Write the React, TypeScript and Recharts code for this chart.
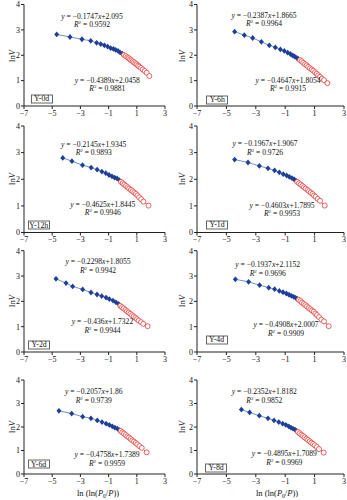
import React from 'react';
import { ScatterChart, Scatter, XAxis, YAxis } from 'recharts';

// ---------- data ----------
const xTicks = [-7, -5, -3, -1, 1, 3];
const yTicks = [0, 1, 2, 3, 4];

const panelLabels = ['Y-0d', 'Y-6h', 'Y-12h', 'Y-1d', 'Y-2d', 'Y-4d', 'Y-6d', 'Y-8d'];

const blue0d: [number, number][] = [[-4.68, 2.82], [-3.74, 2.72], [-2.89, 2.63], [-2.27, 2.57], [-1.85, 2.49], [-1.56, 2.44], [-1.30, 2.39], [-1.07, 2.34], [-0.85, 2.28], [-0.66, 2.25], [-0.50, 2.21], [-0.33, 2.17], [-0.19, 2.11], [-0.03, 2.06]];
const red0d: [number, number][] = [[0.09, 2.01], [0.21, 1.97], [0.33, 1.92], [0.42, 1.88], [0.52, 1.84], [0.61, 1.80], [0.71, 1.76], [0.80, 1.72], [0.90, 1.68], [0.99, 1.64], [1.09, 1.59], [1.18, 1.55], [1.30, 1.50], [1.42, 1.44], [1.56, 1.38], [1.70, 1.31], [1.89, 1.18]];

const blue6h: [number, number][] = [[-4.44, 2.93], [-3.78, 2.79], [-3.21, 2.68], [-2.62, 2.53], [-2.08, 2.39], [-1.67, 2.31], [-1.33, 2.23], [-1.06, 2.17], [-0.83, 2.10], [-0.65, 2.05], [-0.49, 1.99], [-0.36, 1.95], [-0.22, 1.90], [-0.11, 1.86]];
const red6h: [number, number][] = [[0.01, 1.81], [0.12, 1.76], [0.23, 1.70], [0.35, 1.65], [0.46, 1.60], [0.57, 1.54], [0.69, 1.49], [0.80, 1.44], [0.91, 1.39], [1.03, 1.33], [1.14, 1.27], [1.25, 1.21], [1.37, 1.15], [1.50, 1.08], [1.64, 1.02], [1.87, 0.90]];

const blue12h: [number, number][] = [[-4.25, 2.80], [-3.60, 2.68], [-2.85, 2.53], [-2.24, 2.44], [-1.81, 2.36], [-1.48, 2.29], [-1.20, 2.23], [-0.97, 2.16], [-0.76, 2.11], [-0.57, 2.06], [-0.40, 2.03], [-0.24, 1.97]];
const red12h: [number, number][] = [[-0.12, 1.90], [0.00, 1.85], [0.11, 1.80], [0.23, 1.75], [0.35, 1.70], [0.46, 1.65], [0.58, 1.60], [0.70, 1.55], [0.82, 1.50], [0.93, 1.45], [1.05, 1.39], [1.17, 1.32], [1.31, 1.25], [1.47, 1.16], [1.83, 1.01]];

const blue1d: [number, number][] = [[-4.44, 2.74], [-3.53, 2.63], [-2.76, 2.50], [-2.17, 2.41], [-1.72, 2.33], [-1.40, 2.26], [-1.13, 2.19], [-0.90, 2.14], [-0.72, 2.09], [-0.54, 2.04], [-0.40, 2.00], [-0.27, 1.95]];
const red1d: [number, number][] = [[-0.18, 1.90], [-0.06, 1.85], [0.05, 1.80], [0.17, 1.75], [0.28, 1.70], [0.39, 1.65], [0.51, 1.60], [0.62, 1.55], [0.73, 1.50], [0.85, 1.45], [0.96, 1.39], [1.07, 1.34], [1.21, 1.26], [1.37, 1.19], [1.69, 1.01]];

const blue2d: [number, number][] = [[-4.73, 2.89], [-4.02, 2.72], [-3.55, 2.59], [-2.84, 2.47], [-2.25, 2.35], [-1.82, 2.27], [-1.49, 2.21], [-1.18, 2.15], [-0.95, 2.09], [-0.69, 2.03], [-0.48, 1.96], [-0.29, 1.90]];
const red2d: [number, number][] = [[-0.17, 1.82], [-0.05, 1.77], [0.07, 1.72], [0.19, 1.66], [0.30, 1.61], [0.42, 1.56], [0.54, 1.51], [0.66, 1.45], [0.78, 1.40], [0.90, 1.35], [1.01, 1.30], [1.13, 1.24], [1.30, 1.18], [1.46, 1.11], [1.77, 1.02]];

const blue4d: [number, number][] = [[-4.39, 2.87], [-3.49, 2.77], [-2.74, 2.64], [-2.12, 2.54], [-1.72, 2.48], [-1.40, 2.41], [-1.15, 2.36], [-0.92, 2.31], [-0.74, 2.26], [-0.58, 2.22], [-0.42, 2.18], [-0.29, 2.14], [-0.17, 2.10]];
const red4d: [number, number][] = [[-0.08, 2.06], [0.03, 2.01], [0.14, 1.95], [0.26, 1.90], [0.37, 1.85], [0.48, 1.80], [0.60, 1.74], [0.71, 1.69], [0.82, 1.64], [0.94, 1.59], [1.05, 1.52], [1.16, 1.46], [1.30, 1.38], [1.46, 1.28], [1.64, 1.21], [1.96, 1.02]];

const blue6d: [number, number][] = [[-4.52, 2.69], [-3.62, 2.57], [-2.84, 2.44], [-2.25, 2.37], [-1.80, 2.28], [-1.47, 2.21], [-1.18, 2.14], [-0.95, 2.09], [-0.74, 2.03], [-0.55, 1.97], [-0.38, 1.93], [-0.24, 1.87]];
const red6d: [number, number][] = [[-0.14, 1.83], [-0.03, 1.77], [0.09, 1.72], [0.21, 1.66], [0.33, 1.60], [0.45, 1.55], [0.56, 1.49], [0.68, 1.43], [0.80, 1.38], [0.92, 1.32], [1.04, 1.26], [1.18, 1.19], [1.35, 1.11], [1.70, 0.92]];

const blue8d: [number, number][] = [[-3.98, 2.74], [-3.42, 2.62], [-2.76, 2.48], [-2.17, 2.37], [-1.76, 2.28], [-1.44, 2.21], [-1.17, 2.14], [-0.95, 2.09], [-0.76, 2.03], [-0.61, 1.97], [-0.47, 1.93], [-0.33, 1.89], [-0.22, 1.83]];
const red8d: [number, number][] = [[-0.13, 1.79], [-0.02, 1.73], [0.10, 1.67], [0.21, 1.62], [0.32, 1.56], [0.44, 1.50], [0.55, 1.45], [0.67, 1.39], [0.78, 1.33], [0.90, 1.28], [1.01, 1.22], [1.15, 1.15], [1.30, 1.06], [1.62, 0.91]];

const blueSeries = [blue0d, blue6h, blue12h, blue1d, blue2d, blue4d, blue6d, blue8d];
const redSeries = [red0d, red6h, red12h, red1d, red2d, red4d, red6d, red8d];

const blueSlope = ['0.1747', '0.2387', '0.2145', '0.1967', '0.2298', '0.1937', '0.2057', '0.2352'];
const blueIntercept = ['2.095', '1.8665', '1.9345', '1.9067', '1.8055', '2.1152', '1.86', '1.8182'];
const blueR2 = ['0.9592', '0.9964', '0.9893', '0.9726', '0.9942', '0.9696', '0.9739', '0.9852'];
const redSlope = ['0.4389', '0.4647', '0.4625', '0.4603', '0.436', '0.4908', '0.4758', '0.4895'];
const redIntercept = ['2.0458', '1.8054', '1.8445', '1.7895', '1.7322', '2.0007', '1.7389', '1.7089'];
const redR2 = ['0.9881', '0.9915', '0.9946', '0.9953', '0.9944', '0.9909', '0.9959', '0.9969'];

// ---------- layout (positions only) ----------
type Layout = {
  L: number; T: number; W: number; H: number; mt: number; mr: number; yw: number;
  up: [number, number, number]; lo: [number, number, number]; box: [number, number]; ylab: [number, number];
};
const layouts: Layout[] = [
  { L: 0, T: 0, W: 172, H: 120, mt: 4.5, mr: 7, yw: 24, up: [92, 17.3, 25], lo: [107.3, 80.7, 88.5], box: [41.7, 98.5], ylab: [12, 56] },
  { L: 172, T: 0, W: 175, H: 120, mt: 4.5, mr: 3, yw: 25, up: [264, 15.7, 24], lo: [288, 80.7, 89.3], box: [217.3, 99.5], ylab: [182, 56] },
  { L: 0, T: 120, W: 172, H: 126.5, mt: 6, mr: 7, yw: 24, up: [93.7, 145, 153.3], lo: [102.8, 205, 213.3], box: [38.7, 225], ylab: [12, 179] },
  { L: 172, T: 120, W: 175, H: 126.5, mt: 6, mr: 3, yw: 25, up: [265, 144, 153.3], lo: [282, 206, 214.3], box: [217, 224.7], ylab: [182, 179] },
  { L: 0, T: 244, W: 172, H: 122, mt: 6.7, mr: 7, yw: 24, up: [98, 261.7, 270.5], lo: [102.5, 322.3, 331], box: [39.2, 344.7], ylab: [12, 301] },
  { L: 172, T: 244, W: 175, H: 122, mt: 6.7, mr: 3, yw: 25, up: [267.7, 265, 273.5], lo: [286, 325, 334], box: [216.5, 339.5], ylab: [182, 301] },
  { L: 0, T: 366, W: 172, H: 122, mt: 14, mr: 7, yw: 24, up: [93.7, 392.3, 400.7], lo: [107, 455, 464], box: [38.7, 464.3], ylab: [12, 427] },
  { L: 172, T: 366, W: 175, H: 122, mt: 14, mr: 3, yw: 25, up: [264.3, 392.3, 401], lo: [284.3, 454, 463], box: [216.2, 467.8], ylab: [182, 427] },
];

const SERIF = '"Liberation Serif", "DejaVu Serif", serif';
const BLUE = '#1d3f97';
const BLUE_LINE = '#6e8fd6';
const RED = '#e53b35';

const fmt = (v: number) => (v < 0 ? '\u2212' + Math.abs(v) : String(v));

const Diamond = (p: any) => {
  const { cx, cy } = p;
  if (cx == null || cy == null) return null;
  return <path d={`M${cx},${cy - 2.9}L${cx + 2.5},${cy}L${cx},${cy + 2.9}L${cx - 2.5},${cy}Z`} fill={BLUE} />;
};
const Ring = (p: any) => {
  const { cx, cy } = p;
  if (cx == null || cy == null) return null;
  return <circle cx={cx} cy={cy} r={2.5} fill="#fff" stroke={RED} strokeWidth={0.8} />;
};

const Center = ({ x, y, children, style }: any) => (
  <div
    style={{
      position: 'absolute', left: x, top: y, transform: 'translate(-50%,-50%)', whiteSpace: 'nowrap',
      fontFamily: SERIF, fontSize: 7.6, lineHeight: 1, color: '#111', ...style,
    }}
  >
    {children}
  </div>
);

const Sup = ({ children }: any) => (
  <span style={{ fontSize: 5, position: 'relative', top: -3 }}>{children}</span>
);

const Panel = ({ i }: { i: number }) => {
  const lay = layouts[i];
  const blue = blueSeries[i].map(([x, y]) => ({ x, y }));
  const red = redSeries[i].map(([x, y]) => ({ x, y }));
  const tickStyle = { fontSize: 8, fill: '#111', fontFamily: SERIF };
  return (
    <>
      <div style={{ position: 'absolute', left: lay.L, top: lay.T, width: lay.W, height: lay.H }}>
        <ScatterChart width={lay.W} height={lay.H} margin={{ top: lay.mt, right: lay.mr, left: 0, bottom: 0 }}>
          <XAxis
            type="number" dataKey="x" domain={[-7, 3]} ticks={xTicks} interval={0} allowDataOverflow
            height={14} tickSize={3} tickMargin={1} tick={tickStyle} tickFormatter={fmt}
            axisLine={{ stroke: '#222' }} tickLine={{ stroke: '#222' }}
          />
          <YAxis
            type="number" dataKey="y" domain={[0, 4]} ticks={yTicks} interval={0} allowDataOverflow
            width={lay.yw} tickSize={3} tickMargin={1} tick={tickStyle} tickFormatter={fmt}
            axisLine={{ stroke: '#222' }} tickLine={{ stroke: '#222' }}
          />
          <Scatter data={blue} line={{ stroke: BLUE_LINE, strokeWidth: 1 }} shape={Diamond} isAnimationActive={false} />
          <Scatter data={red} line={{ stroke: RED, strokeWidth: 0.9 }} shape={Ring} isAnimationActive={false} />
        </ScatterChart>
      </div>
      <Center x={lay.up[0]} y={lay.up[1]}>
        <i>y</i> = {'\u2212'}{blueSlope[i]}<i>x</i>+{blueIntercept[i]}
      </Center>
      <Center x={lay.up[0]} y={lay.up[2]}>
        <i>R</i><Sup>2</Sup> = {blueR2[i]}
      </Center>
      <Center x={lay.lo[0]} y={lay.lo[1]}>
        <i>y</i> = {'\u2212'}{redSlope[i]}<i>x</i>+{redIntercept[i]}
      </Center>
      <Center x={lay.lo[0]} y={lay.lo[2]}>
        <i>R</i><Sup>2</Sup> = {redR2[i]}
      </Center>
      <Center
        x={lay.box[0]} y={lay.box[1]}
        style={{
          border: '1px solid #666', background: '#fff', width: 22, height: 9, fontSize: 7.8,
          display: 'flex', alignItems: 'center', justifyContent: 'center', boxSizing: 'border-box',
        }}
      >
        {panelLabels[i]}
      </Center>
      <Center x={lay.ylab[0]} y={lay.ylab[1]} style={{ transform: 'translate(-50%,-50%) rotate(-90deg)', fontSize: 8.5 }}>
        ln<i>V</i>
      </Center>
    </>
  );
};

export default function App() {
  return (
    <div style={{ position: 'absolute', left: 0, top: 0, width: 347, height: 500, background: '#fff', overflow: 'hidden' }}>
      {layouts.map((_, i) => (
        <Panel key={i} i={i} />
      ))}
      <Center x={98} y={492.5} style={{ fontSize: 8.5 }}>
        ln (ln(<i>P</i><span style={{ fontSize: 5.5, position: 'relative', top: 2 }}>0</span>/<i>P</i>))
      </Center>
      <Center x={277} y={492.5} style={{ fontSize: 8.5 }}>
        ln (ln(<i>P</i><span style={{ fontSize: 5.5, position: 'relative', top: 2 }}>0</span>/<i>P</i>))
      </Center>
    </div>
  );
}
